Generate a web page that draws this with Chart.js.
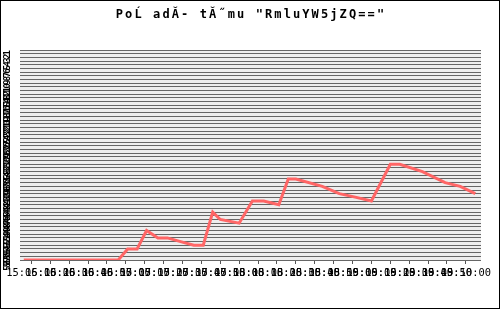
<!DOCTYPE html>
<html>
<head>
<meta charset="utf-8">
<script src="https://cdn.jsdelivr.net/npm/chart.js@4/dist/chart.umd.min.js"></script>
<style>
  html, body { margin: 0; padding: 0; background: #fff; }
  canvas { display: block; }
</style>
</head>
<body>
<canvas id="rankChart" width="500" height="309"></canvas>
<script>
const chartTitle = 'PoĹ adĂ- tĂ˝mu "RmluYW5jZQ=="';

// x axis tick labels (every 10 s)
const tickTimes = [
    '15:06:10', '15:06:20', '15:06:30', '15:06:40', '15:06:50', '15:07:00',
    '15:07:10', '15:07:20', '15:07:30', '15:07:40', '15:07:50', '15:08:00',
    '15:08:10', '15:08:20', '15:08:30', '15:08:40', '15:08:50', '15:09:00',
    '15:09:10', '15:09:20', '15:09:30', '15:09:40', '15:09:50', '15:10:00'
];
const axisStart = '15:06:04';
const axisEnd = '15:10:08';

// measured samples
const pointTimes = [
    '15:06:06', '15:06:56', '15:07:01', '15:07:06', '15:07:11', '15:07:17',
    '15:07:22', '15:07:29', '15:07:36', '15:07:41', '15:07:46', '15:07:50',
    '15:08:00', '15:08:07', '15:08:13', '15:08:21', '15:08:26', '15:08:30',
    '15:08:44', '15:08:53', '15:09:02', '15:09:10', '15:09:20', '15:09:25',
    '15:09:37', '15:09:49', '15:09:57', '15:10:05'
];
const ranks = [
    58, 58, 55, 55, 50, 52,
    52, 53, 54, 54, 45, 47,
    48, 42, 42, 43, 36, 36,
    38, 40, 41, 42, 32, 32,
    34, 37, 38, 40
];
const rankMin = 1;
const rankMax = 58;

const monoFont = "'DejaVu Sans Mono', monospace";

function toSec(t) {
    const p = t.split(':').map(Number);
    return p[0] * 3600 + p[1] * 60 + p[2];
}

function fmtSec(v) {
    const pad = n => String(n).padStart(2, '0');
    const h = Math.floor(v / 3600);
    const m = Math.floor((v % 3600) / 60);
    const s = Math.round(v % 60);
    return pad(h) + ':' + pad(m) + ':' + pad(s);
}

// plot background + frame + spaced title
const decorPlugin = {
    id: 'decor',
    beforeDraw(chart) {
        const ctx = chart.ctx;
        const a = chart.chartArea;
        ctx.save();
        ctx.fillStyle = '#fff';
        ctx.fillRect(0, 0, chart.width, chart.height);
        ctx.fillStyle = '#eeeeee';
        ctx.fillRect(a.left, a.top, a.right - a.left, a.bottom - a.top);
        ctx.restore();
    },
    afterDraw(chart) {
        const ctx = chart.ctx;
        ctx.save();
        ctx.strokeStyle = '#000';
        ctx.lineWidth = 1;
        ctx.strokeRect(0.5, 0.5, chart.width - 1, chart.height - 1);
        ctx.fillStyle = '#000';
        ctx.font = 'bold 12px ' + monoFont;
        ctx.letterSpacing = '2.1px';
        ctx.textAlign = 'center';
        ctx.textBaseline = 'alphabetic';
        ctx.fillText(chartTitle, 251, 18);
        ctx.restore();
    }
};

const ctx = document.getElementById('rankChart').getContext('2d');
const chart = new Chart(ctx, {
    type: 'line',
    data: {
        datasets: [{
            data: pointTimes.map((t, i) => ({ x: toSec(t), y: ranks[i] })),
            borderColor: '#ff6666',
            borderWidth: 3,
            pointRadius: 0,
            tension: 0,
            fill: false
        }]
    },
    options: {
        responsive: false,
        animation: false,
        devicePixelRatio: 1,
        layout: {
            padding: { top: 50, left: 2, right: 19, bottom: 29 }
        },
        plugins: {
            legend: { display: false },
            tooltip: { enabled: false },
            title: { display: false }
        },
        scales: {
            x: {
                type: 'linear',
                min: toSec(axisStart),
                max: toSec(axisEnd),
                afterBuildTicks: scale => {
                    scale.ticks = tickTimes.map(t => ({ value: toSec(t) }));
                },
                afterFit: scale => { scale.height = 20; },
                border: { display: false },
                grid: {
                    drawOnChartArea: false,
                    tickLength: 4,
                    color: '#555'
                },
                ticks: {
                    autoSkip: false,
                    minRotation: 0,
                    maxRotation: 0,
                    padding: 3,
                    color: '#000',
                    font: { family: monoFont, size: 10.4 },
                    callback: v => fmtSec(v)
                }
            },
            y: {
                type: 'linear',
                reverse: true,
                min: rankMin,
                max: rankMax,
                afterFit: scale => { scale.width = 18; },
                border: { display: false },
                grid: {
                    color: '#666',
                    drawTicks: false
                },
                ticks: {
                    stepSize: 1,
                    autoSkip: false,
                    minRotation: 90,
                    maxRotation: 90,
                    padding: 12,
                    color: '#000',
                    font: { family: monoFont, size: 9, weight: 'bold' }
                }
            }
        }
    },
    plugins: [decorPlugin]
});
</script>
</body>
</html>
